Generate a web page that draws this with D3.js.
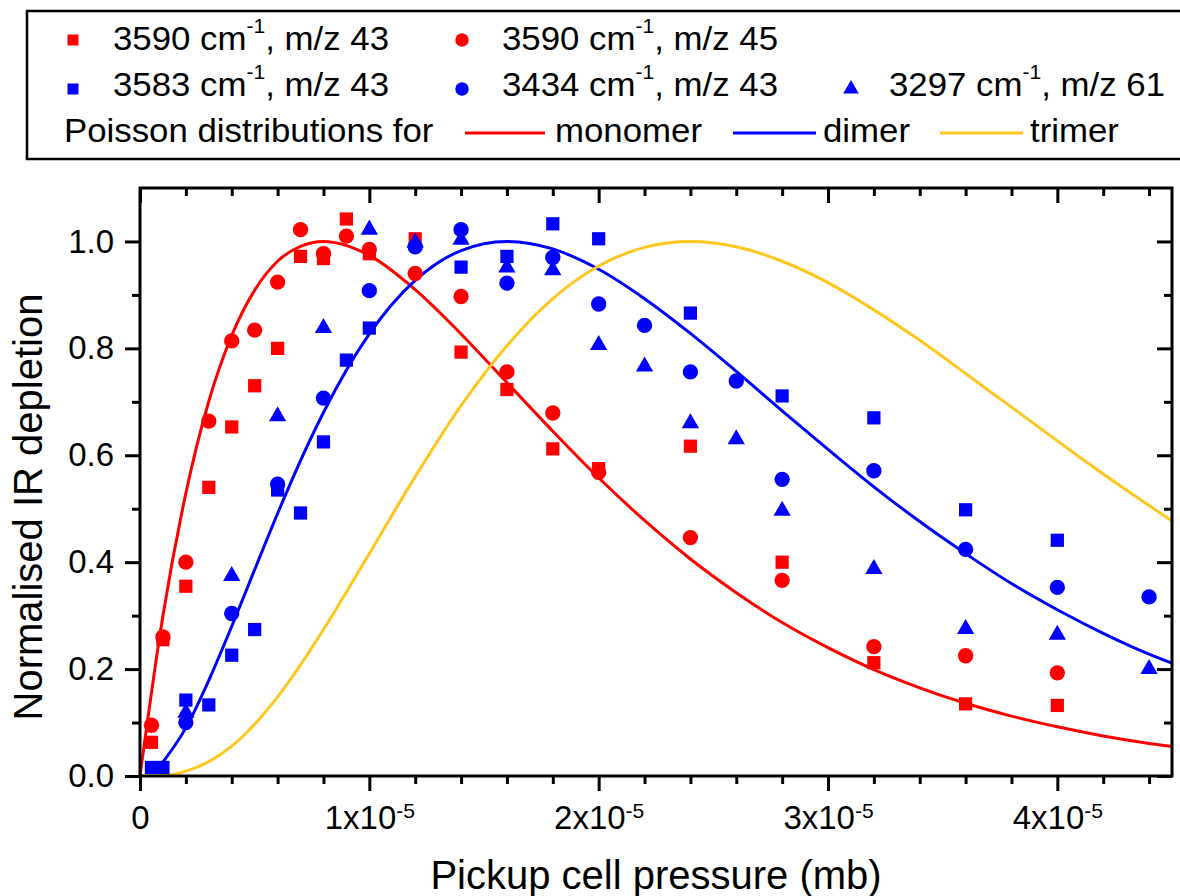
<!DOCTYPE html>
<html>
<head>
<meta charset="utf-8">
<title>Normalised IR depletion vs pickup cell pressure</title>
<script src="https://d3js.org/d3.v7.min.js"></script>
<style>
  body { margin: 0; background: #fff; }
  svg { display: block; font-family: Arial, "Liberation Sans", sans-serif; }
</style>
</head>
<body>
<script>
// pressures in units of 1e-5 mb
const pRed = [0.05, 0.1, 0.2, 0.3, 0.4, 0.5, 0.6, 0.7, 0.8, 0.9, 1.0, 1.2, 1.4, 1.6, 1.8, 2.0, 2.4, 2.8, 3.2, 3.6, 4.0];
const sq3590 = [0.063, 0.255, 0.355, 0.54, 0.653, 0.73, 0.80, 0.972, 0.968, 1.042, 0.977, 1.005, 0.793, 0.723, 0.612, 0.575, 0.617, 0.40, 0.212, 0.135, 0.132];
const ci3590 = [0.095, 0.26, 0.40, 0.664, 0.814, 0.834, 0.924, 1.022, 0.977, 1.01, 0.985, 0.94, 0.897, 0.756, 0.679, 0.568, 0.446, 0.366, 0.242, 0.225, 0.193];

const pBlueSq = [0.05, 0.1, 0.2, 0.3, 0.4, 0.5, 0.6, 0.7, 0.8, 0.9, 1.0, 1.4, 1.6, 1.8, 2.0, 2.4, 2.8, 3.2, 3.6, 4.0];
const sq3583 = [0.016, 0.016, 0.142, 0.133, 0.226, 0.274, 0.535, 0.492, 0.625, 0.778, 0.838, 0.952, 0.972, 1.033, 1.005, 0.866, 0.711, 0.67, 0.498, 0.441];

const pBlue = [0.2, 0.4, 0.6, 0.8, 1.0, 1.2, 1.4, 1.6, 1.8, 2.0, 2.2, 2.4, 2.6, 2.8, 3.2, 3.6, 4.0, 4.4];
const ci3434 = [0.10, 0.304, 0.546, 0.707, 0.908, 0.99, 1.022, 0.922, 0.97, 0.883, 0.843, 0.756, 0.739, 0.555, 0.571, 0.424, 0.353, 0.335];
const tr3297 = [0.12, 0.376, 0.675, 0.84, 1.024, 1.0, 1.005, 0.953, 0.948, 0.808, 0.768, 0.662, 0.632, 0.498, 0.389, 0.277, 0.266, 0.202];

// Poisson curves
const pCurve = [0, 0.1, 0.2, 0.3, 0.4, 0.5, 0.6, 0.7, 0.8, 1.0, 1.2, 1.4, 1.6, 1.8, 2.0, 2.2, 2.4, 2.6, 2.8, 3.0, 3.2, 3.4, 3.6, 3.8, 4.0, 4.2, 4.4, 4.5];
const monomer = [0, 0.300, 0.529, 0.701, 0.824, 0.909, 0.963, 0.991, 1.000, 0.974, 0.910, 0.827, 0.736, 0.645, 0.558, 0.478, 0.406, 0.343, 0.287, 0.240, 0.199, 0.165, 0.136, 0.112, 0.092, 0.075, 0.061, 0.055];
const dimer = [null, 0.026, 0.090, 0.179, 0.280, 0.386, 0.491, 0.590, 0.680, 0.827, 0.927, 0.983, 1.000, 0.986, 0.948, 0.893, 0.828, 0.757, 0.683, 0.611, 0.541, 0.476, 0.416, 0.360, 0.311, 0.267, 0.228, 0.211];
const trimer = [0, 0.001, 0.009, 0.027, 0.056, 0.097, 0.148, 0.208, 0.274, 0.416, 0.560, 0.693, 0.805, 0.893, 0.954, 0.989, 1.000, 0.990, 0.963, 0.923, 0.872, 0.815, 0.753, 0.690, 0.627, 0.565, 0.506, 0.477];

const xTicks = [0, 1, 2, 3, 4];
const yTicks = [0, 0.2, 0.4, 0.6, 0.8, 1.0];
const seriesNames = ["3590", "3590", "3583", "3434", "3297"];
const seriesMz = ["43", "45", "43", "43", "61"];
const curveNames = ["monomer", "dimer", "trimer"];

const RED = "#ff0000", BLUE = "#0000ff", YELLOW = "#ffc61e";

const width = 1180, height = 896;
const svg = d3.select("body").append("svg")
    .attr("width", width)
    .attr("height", height);
svg.append("rect").attr("width", width).attr("height", height).attr("fill", "#fff");

const x = d3.scaleLinear().domain([0, 4.5]).range([140, 1172]);
const y = d3.scaleLinear().domain([0, 1.1]).range([776, 188]);

svg.append("clipPath").attr("id", "plot")
    .append("rect").attr("x", 140).attr("y", 188).attr("width", 1032).attr("height", 588);

// curves
const line = d3.line()
    .defined(d => d[1] != null)
    .x(d => x(d[0]))
    .y(d => y(d[1]))
    .curve(d3.curveMonotoneX);

const curves = [[monomer, RED], [dimer, BLUE], [trimer, YELLOW]];
svg.append("g").attr("clip-path", "url(#plot)")
    .selectAll("path")
    .data(curves)
    .enter()
    .append("path")
    .attr("d", c => line(pCurve.map((p, i) => [p, c[0][i]])))
    .attr("fill", "none")
    .attr("stroke", c => c[1])
    .attr("stroke-width", 3);

// markers
const shapes = {
    square: d3.symbol().type(d3.symbolSquare).size(175),
    circle: d3.symbol().type(d3.symbolCircle).size(185),
    triangle: d3.symbol().type(d3.symbolTriangle).size(130)
};

const scatter = [
    [pRed, sq3590, "square", RED],
    [pRed, ci3590, "circle", RED],
    [pBlueSq, sq3583, "square", BLUE],
    [pBlue, ci3434, "circle", BLUE],
    [pBlue, tr3297, "triangle", BLUE]
];

scatter.forEach(s => {
    svg.append("g").selectAll("path")
        .data(s[0].map((p, i) => [p, s[1][i]]))
        .enter()
        .append("path")
        .attr("d", shapes[s[2]])
        .attr("transform", d => `translate(${x(d[0])},${y(d[1]) + (s[2] == "triangle" ? 1 : 0)})`)
        .attr("fill", s[3]);
});

// axes
const xMinor = d3.range(1, 23).map(i => i * 0.2).filter(v => Math.abs(v - Math.round(v)) > 1e-6);
const yMinor = [0.1, 0.3, 0.5, 0.7, 0.9];

function styleAxis(g) {
    g.select(".domain").remove();
    g.selectAll("line").attr("stroke", "#000").attr("stroke-width", 3);
    g.attr("font-family", null).attr("font-size", 33);
    g.selectAll("text").attr("fill", "#000");
}

svg.append("g").attr("transform", "translate(0,776)")
    .call(d3.axisBottom(x).tickValues(xTicks).tickSize(15).tickPadding(15).tickFormat(""))
    .call(styleAxis)
    .selectAll(".tick text")
    .each(function (d) {
        const t = d3.select(this);
        if (d === 0) { t.text("0"); return; }
        t.append("tspan").text(d + "x10");
        t.append("tspan").attr("font-size", 21).attr("dy", -11).text("-5");
    });
svg.append("g").attr("transform", "translate(0,776)")
    .call(d3.axisBottom(x).tickValues(xMinor).tickSize(8).tickFormat(""))
    .call(styleAxis);

svg.append("g").attr("transform", "translate(0,188)")
    .call(d3.axisBottom(x).tickValues(xTicks).tickSize(15).tickFormat(""))
    .call(styleAxis);
svg.append("g").attr("transform", "translate(0,188)")
    .call(d3.axisBottom(x).tickValues(xMinor).tickSize(8).tickFormat(""))
    .call(styleAxis);

svg.append("g").attr("transform", "translate(140,0)")
    .call(d3.axisLeft(y).tickValues(yTicks).tickSize(15).tickPadding(11).tickFormat(d3.format(".1f")))
    .call(styleAxis);
svg.append("g").attr("transform", "translate(140,0)")
    .call(d3.axisLeft(y).tickValues(yMinor).tickSize(8).tickFormat(""))
    .call(styleAxis);

svg.append("g").attr("transform", "translate(1172,0)")
    .call(d3.axisLeft(y).tickValues(yTicks).tickSize(15).tickFormat(""))
    .call(styleAxis);
svg.append("g").attr("transform", "translate(1172,0)")
    .call(d3.axisLeft(y).tickValues(yMinor).tickSize(8).tickFormat(""))
    .call(styleAxis);

svg.append("rect")
    .attr("x", 140).attr("y", 188).attr("width", 1032).attr("height", 588)
    .attr("fill", "none").attr("stroke", "#000").attr("stroke-width", 3);

// axis titles
svg.append("text")
    .attr("x", 656).attr("y", 889)
    .attr("text-anchor", "middle")
    .attr("font-size", 40)
    .text("Pickup cell pressure (mb)");

svg.append("text")
    .attr("transform", "translate(42,507) rotate(-90)")
    .attr("text-anchor", "middle")
    .attr("font-size", 40)
    .text("Normalised IR depletion");

// legend
const legend = svg.append("g");
legend.append("rect")
    .attr("x", 27).attr("y", 11).attr("width", 1180).attr("height", 148)
    .attr("fill", "none").attr("stroke", "#000").attr("stroke-width", 2.5);

const legendPos = [[73, 40, 113, 50], [462, 40, 502, 50], [73, 89, 113, 96], [462, 89, 502, 96], [851, 89, 889, 96]];
const legendShapes = {
    square: d3.symbol().type(d3.symbolSquare).size(121),
    circle: d3.symbol().type(d3.symbolCircle).size(140),
    triangle: d3.symbol().type(d3.symbolTriangle).size(105)
};

// legend text in the figure is slightly wider than plain Arial
function legendText(tx, ty) {
    return legend.append("text")
        .attr("transform", `translate(${tx},${ty}) scale(1.055,1)`)
        .attr("font-size", 33);
}

scatter.forEach((s, i) => {
    const p = legendPos[i];
    legend.append("path")
        .attr("d", legendShapes[s[2]])
        .attr("transform", `translate(${p[0]},${p[1]})`)
        .attr("fill", s[3]);
    const t = legendText(p[2], p[3]);
    t.append("tspan").text(seriesNames[i] + " cm");
    t.append("tspan").attr("font-size", 20).attr("dy", -17).text("-1");
    t.append("tspan").attr("dy", 17).text(", m/z " + seriesMz[i]);
});

legendText(64, 142).text("Poisson distributions for");

const curveLegend = [[465, 545, 555], [733, 816, 823], [940, 1023, 1030]];
curves.forEach((c, i) => {
    const p = curveLegend[i];
    legend.append("line")
        .attr("x1", p[0]).attr("x2", p[1]).attr("y1", 133).attr("y2", 133)
        .attr("stroke", c[1]).attr("stroke-width", 3);
    legendText(p[2], 142).text(curveNames[i]);
});
</script>
</body>
</html>
